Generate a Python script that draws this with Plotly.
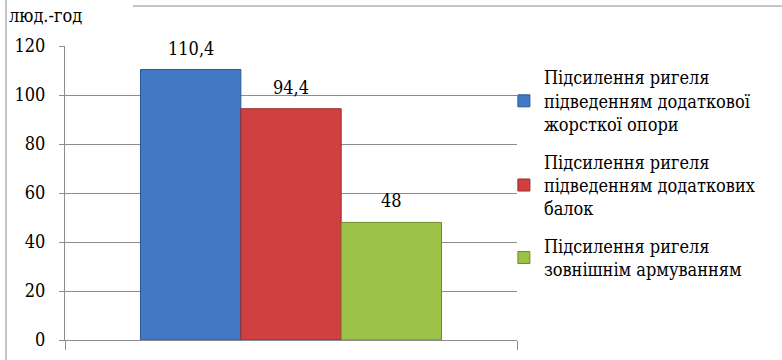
import plotly.graph_objects as go

# Labour intensity of the three strengthening options, person-hours
series_names = [
    "Підсилення ригеля<br>підведенням додаткової<br>жорсткої опори",
    "Підсилення ригеля<br>підведенням додаткових<br>балок",
    "Підсилення ригеля<br>зовнішнім армуванням",
]
values = [110.4, 94.4, 48]
value_labels = ["110,4", "94,4", "48"]
colors = ["#4179C6", "#D04040", "#9BC246"]
edge_colors = ["#2B5794", "#9A2A2A", "#6E8C2C"]
y_ticks = [0, 20, 40, 60, 80, 100, 120]
y_unit = "люд.-год"

FONT = "DejaVu Serif Condensed"
GRID = "#8C8C8C"
BARGAP = 0.334
n = len(values)
slot = (1 - BARGAP) / n  # width of one bar inside the single category

fig = go.Figure()
for i, (name, v, c, ec) in enumerate(zip(series_names, values, colors, edge_colors)):
    fig.add_trace(go.Bar(
        x=[0], y=[v], name=name, legendgroup=f"g{i}",
        marker=dict(color=c, line=dict(color=ec, width=1)),
        hoverinfo="skip",
    ))

# value labels above each bar
annotations = [
    dict(x=(i - (n - 1) / 2) * slot, y=v, xref="x", yref="y",
         text=lab, showarrow=False, xanchor="center", yanchor="bottom",
         yshift=9, font=dict(family=FONT, size=18, color="#000000"))
    for i, (v, lab) in enumerate(zip(values, value_labels))
]
annotations.append(dict(
    text=y_unit, xref="paper", yref="paper", x=-0.128, y=1.105,
    xanchor="left", yanchor="middle", showarrow=False,
    font=dict(family=FONT, size=18, color="#000000"),
))

fig.update_layout(
    width=782, height=360,
    margin=dict(l=65, r=265, t=46, b=20, autoexpand=False),
    paper_bgcolor="white", plot_bgcolor="white",
    barmode="group", bargap=BARGAP, bargroupgap=0,
    font=dict(family=FONT, size=18, color="#000000"),
    showlegend=True,
    legend=dict(
        x=0.971, y=0.955, xanchor="left", yanchor="top",
        font=dict(family=FONT, size=18, color="#000000"),
        tracegroupgap=11, itemwidth=30, bgcolor="rgba(0,0,0,0)",
        traceorder="grouped",
    ),
    xaxis=dict(
        range=[-0.5, 0.5], showgrid=False, zeroline=False,
        showline=True, linecolor=GRID, linewidth=1,
        tickmode="array", tickvals=[-0.5, 0.5], ticktext=["", ""],
        ticks="outside", ticklen=9, tickcolor=GRID, fixedrange=True,
    ),
    yaxis=dict(
        range=[0, 120], tickmode="array", tickvals=y_ticks,
        showgrid=True, gridcolor=GRID, gridwidth=1, zeroline=False,
        showline=True, linecolor=GRID, linewidth=1,
        ticks="outside", ticklen=5, tickcolor=GRID,
        ticklabelstandoff=10,
        tickfont=dict(family=FONT, size=18, color="#000000"),
    ),
    annotations=annotations,
    shapes=[
        # outer chart frame (left and top edges)
        dict(type="line", xref="paper", yref="paper",
             x0=-0.1305, x1=-0.1305, y0=-0.07, y1=1.16,
             line=dict(color="#8C8C8C", width=1)),
        dict(type="line", xref="paper", yref="paper",
             x0=0.150, x1=1.59, y0=1.136, y1=1.136,
             line=dict(color="#8C8C8C", width=1)),
    ],
)

fig.write_html("out.html")
